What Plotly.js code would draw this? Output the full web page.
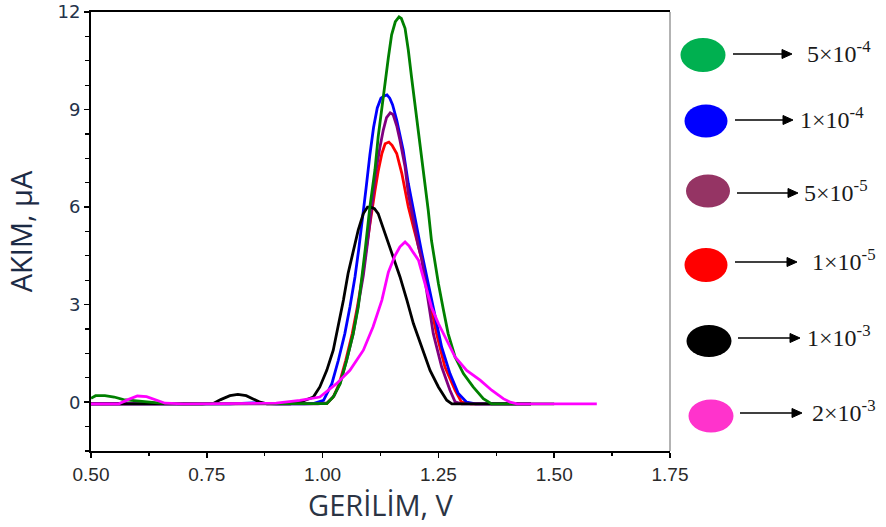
<!DOCTYPE html>
<html>
<head>
<meta charset="utf-8">
<script src="https://cdn.plot.ly/plotly-3.0.1.min.js"></script>
<style>
  html, body { margin: 0; padding: 0; background: #ffffff; }
  #chart { width: 886px; height: 527px; }
</style>
</head>
<body>
<div id="chart"></div>
<script>
// Differential pulse voltammograms: current (µA) against potential (V)
// for six concentrations.

// ---- 5×10^-4 ----
const v_5e4 = [0.50,0.51,0.53,0.55,0.57,0.60,0.65,0.70,0.80,0.90,0.99,1.009,1.023,1.038,1.052,1.066,1.077,1.085,1.092,1.102,1.113,1.120,1.128,1.135,1.142,1.149,1.157,1.165,1.170,1.178,1.185,1.192,1.199,1.207,1.214,1.221,1.228,1.235,1.250,1.261,1.271,1.286,1.304,1.325,1.347,1.365,1.50];
const i_5e4 = [0.12,0.20,0.20,0.16,0.08,0.04,-0.03,-0.05,-0.05,-0.05,-0.05,-0.04,0.16,0.57,1.29,2.11,2.93,3.80,4.70,6.00,7.14,8.16,9.09,9.90,10.60,11.30,11.70,11.85,11.80,11.50,10.83,10.00,9.20,8.47,7.65,6.73,5.91,4.98,3.65,2.83,2.11,1.39,0.88,0.47,0.11,-0.05,-0.05];

// ---- 1×10^-4 ----
const v_1e4 = [0.50,0.60,0.70,0.80,0.85,0.90,0.96,0.980,1.002,1.020,1.034,1.048,1.059,1.070,1.078,1.086,1.094,1.102,1.110,1.118,1.126,1.133,1.139,1.145,1.151,1.160,1.174,1.185,1.196,1.207,1.214,1.228,1.243,1.257,1.275,1.293,1.311,1.33,1.45];
const i_1e4 = [-0.05,-0.05,-0.05,-0.05,-0.02,-0.05,-0.05,-0.04,0.06,0.57,1.29,2.11,2.93,3.86,4.70,5.60,6.60,7.60,8.45,9.05,9.35,9.42,9.45,9.35,9.15,8.68,7.75,6.73,5.91,5.10,4.60,3.65,2.62,1.70,0.88,0.27,0.00,-0.05,-0.05];

// ---- 5×10^-5 ----
const v_5e5 = [0.50,0.60,0.70,0.80,0.90,0.99,1.010,1.025,1.038,1.052,1.066,1.077,1.088,1.097,1.106,1.114,1.124,1.131,1.138,1.146,1.152,1.160,1.167,1.178,1.185,1.196,1.207,1.214,1.225,1.239,1.257,1.275,1.286,1.30,1.45];
const i_5e5 = [-0.05,-0.05,-0.05,-0.05,-0.05,-0.05,-0.02,0.20,0.60,1.30,2.10,2.95,3.90,4.90,6.00,7.00,7.86,8.37,8.75,8.90,8.85,8.50,8.06,7.24,6.42,5.60,4.78,4.40,3.34,2.11,1.09,0.37,0.01,-0.05,-0.05];

// ---- 1×10^-5 ----
const v_1e5 = [0.50,0.60,0.68,0.70,0.72,0.80,0.90,0.99,1.009,1.023,1.036,1.050,1.064,1.075,1.086,1.094,1.100,1.106,1.113,1.120,1.128,1.135,1.143,1.150,1.160,1.171,1.178,1.185,1.196,1.207,1.214,1.228,1.246,1.264,1.286,1.300,1.32,1.45];
const i_1e5 = [-0.05,-0.05,-0.04,-0.03,-0.04,-0.05,-0.05,-0.05,-0.04,0.16,0.57,1.29,2.11,2.93,3.86,4.70,5.30,5.90,6.50,7.10,7.65,7.95,8.00,7.90,7.65,7.04,6.52,6.01,5.39,4.78,4.40,3.34,2.11,1.09,0.37,0.00,-0.05,-0.05];

// ---- 1×10^-3 ----
const v_1e3 = [0.50,0.58,0.66,0.74,0.765,0.78,0.80,0.817,0.835,0.85,0.865,0.88,0.93,0.951,0.980,0.994,1.009,1.023,1.034,1.045,1.055,1.066,1.077,1.088,1.097,1.104,1.112,1.120,1.135,1.145,1.156,1.167,1.182,1.196,1.214,1.232,1.250,1.268,1.279,1.34,1.45];
const i_1e3 = [-0.05,-0.04,-0.05,-0.05,-0.03,0.08,0.20,0.24,0.20,0.10,0.00,-0.05,-0.05,0.00,0.16,0.47,0.98,1.60,2.32,3.14,3.96,4.68,5.30,5.80,6.00,6.00,5.95,5.80,5.19,4.78,4.35,3.86,3.14,2.42,1.70,0.98,0.47,0.06,-0.05,-0.05,-0.05];

// ---- 2×10^-3 ----
const v_2e3 = [0.50,0.56,0.58,0.60,0.62,0.64,0.66,0.70,0.80,0.90,0.951,0.994,1.030,1.059,1.088,1.109,1.128,1.142,1.156,1.167,1.178,1.187,1.196,1.207,1.221,1.235,1.250,1.268,1.286,1.311,1.340,1.365,1.390,1.405,1.42,1.592];
const i_2e3 = [-0.05,-0.05,0.08,0.19,0.17,0.08,-0.03,-0.05,-0.05,-0.03,0.06,0.16,0.57,0.98,1.60,2.32,3.14,4.00,4.50,4.78,4.93,4.80,4.60,4.37,3.65,2.93,2.42,1.91,1.39,0.98,0.68,0.37,0.11,0.00,-0.05,-0.05];

// Key labels (top to bottom) and the series each one names
const keyLabels = ['5×10<sup>-4</sup>', '1×10<sup>-4</sup>', '5×10<sup>-5</sup>', '1×10<sup>-5</sup>', '1×10<sup>-3</sup>', '2×10<sup>-3</sup>'];
const keyNames  = ['5×10⁻⁴', '1×10⁻⁴', '5×10⁻⁵', '1×10⁻⁵', '1×10⁻³', '2×10⁻³'];
const xTickVals = [0.50, 0.75, 1.00, 1.25, 1.50, 1.75];
const yTickVals = [0, 3, 6, 9, 12];

const seriesX = [v_5e4, v_1e4, v_5e5, v_1e5, v_1e3, v_2e3];
const seriesY = [i_5e4, i_1e4, i_5e5, i_1e5, i_1e3, i_2e3];
const lineColors = ['#008000', '#0000ff', '#800080', '#ff0000', '#000000', '#ff00ff'];
const dotColors  = ['#00b050', '#0000ff', '#953464', '#ff0000', '#000000', '#ff33cc'];
// stacking order of the curves (first is drawn underneath)
const drawOrder = [3, 1, 2, 4, 0, 5];

const traces = drawOrder.map(k => ({
  type: 'scatter', mode: 'lines',
  x: seriesX[k], y: seriesY[k],
  name: keyNames[k],
  line: { color: lineColors[k], width: 2.8 },
  showlegend: false,
  hoverinfo: 'x+y+name'
}));

// plot frame in page pixels
const W = 886, H = 527;
const frame = { l: 91, r: 670, t: 12, b: 451 };
const px = x => (x - frame.l) / (frame.r - frame.l);
const py = y => (frame.b - y) / (frame.b - frame.t);

// key layout in page pixels: dot centre, dot size, arrow span, label start
const keyDots   = [[703, 55, 45, 34], [706, 121, 43, 33], [708, 191, 44, 33], [706, 265, 43, 34], [709, 341, 45, 32], [711, 416, 45, 33]];
const keyArrows = [[733, 792, 54], [735, 793, 120], [737, 798, 193], [735, 797, 262], [738, 800, 338], [740, 802, 413]];
const keyText   = [805, 798, 802, 810, 805, 810];

const shapes = [];
const annotations = [];

// grey right-hand edge of the frame
shapes.push({ type: 'line', xref: 'paper', yref: 'paper', x0: 1, x1: 1, y0: 0, y1: 1,
  line: { color: '#9a9a9a', width: 1.5 } });

keyLabels.forEach((lab, k) => {
  const [cx, cy, w, h] = keyDots[k];
  shapes.push({ type: 'circle', xref: 'paper', yref: 'paper',
    x0: px(cx - w / 2), x1: px(cx + w / 2), y0: py(cy + h / 2), y1: py(cy - h / 2),
    fillcolor: dotColors[k], line: { color: dotColors[k], width: 0 } });
  const [a0, a1, ay] = keyArrows[k];
  shapes.push({ type: 'line', xref: 'paper', yref: 'paper',
    x0: px(a0), x1: px(a1 - 6), y0: py(ay), y1: py(ay),
    line: { color: '#000000', width: 1.6 } });
  shapes.push({ type: 'path', xref: 'paper', yref: 'paper',
    path: `M ${px(a1 - 10)},${py(ay - 4.5)} L ${px(a1)},${py(ay)} L ${px(a1 - 10)},${py(ay + 4.5)} Z`,
    fillcolor: '#000000', line: { color: '#000000', width: 1 } });
  annotations.push({ xref: 'paper', yref: 'paper', x: px(keyText[k]), y: py(ay - 2),
    xanchor: 'left', yanchor: 'middle', showarrow: false, text: lab,
    font: { family: 'Liberation Serif, Times New Roman, serif', size: 24, color: '#1a1a1a' } });
});

const layout = {
  width: W, height: H,
  margin: { l: frame.l, r: W - frame.r, t: frame.t, b: H - frame.b, pad: 0 },
  paper_bgcolor: '#ffffff', plot_bgcolor: '#ffffff',
  showlegend: false,
  xaxis: {
    range: [0.5, 1.75], tickvals: xTickVals, tickformat: '.2f',
    showgrid: false, zeroline: false,
    showline: true, linecolor: '#000000', linewidth: 2, mirror: true,
    ticks: 'outside', ticklen: 5, tickwidth: 1.5, tickcolor: '#000000',
    minor: { dtick: 0.125, tick0: 0.5, ticks: 'outside', ticklen: 3, tickwidth: 1.2, tickcolor: '#000000', showgrid: false },
    tickfont: { family: 'Liberation Sans, Arial, sans-serif', size: 19, color: '#2a2a2a' },
    title: { text: 'GERİLİM, V', standoff: 12,
      font: { family: 'Open Sans, sans-serif', size: 29, color: '#2b3444' } }
  },
  yaxis: {
    range: [-1.5, 12], tickvals: yTickVals,
    showgrid: false, zeroline: false,
    showline: true, linecolor: '#000000', linewidth: 2, mirror: false,
    ticks: 'outside', ticklen: 5, tickwidth: 1.5, tickcolor: '#000000',
    minor: { dtick: 0.75, tick0: 0, ticks: 'outside', ticklen: 4, tickwidth: 1.2, tickcolor: '#000000', showgrid: false },
    tickfont: { family: 'DejaVu Sans, Verdana, sans-serif', size: 18, color: '#24324a' },
    title: { text: 'AKIM, μA', standoff: 16,
      font: { family: 'Open Sans, sans-serif', size: 29, color: '#1c2b45' } }
  },
  shapes: shapes,
  annotations: annotations
};

Plotly.newPlot('chart', traces, layout, { displayModeBar: false, staticPlot: true });
</script>
</body>
</html>
